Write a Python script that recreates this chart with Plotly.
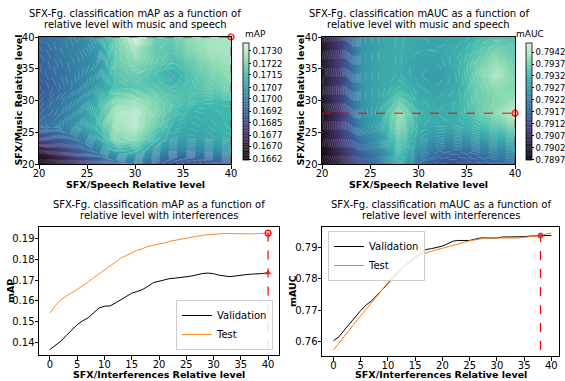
import plotly.graph_objects as go

W, H = 565, 381
FONT = "DejaVu Sans"

# ---------------- data ----------------
grid_levels = [20, 22, 24, 26, 28, 30, 32, 34, 36, 38, 40]  # SFX/Speech (x) and SFX/Music (y)

# rows: music level 20 -> 40 ; columns: speech level 20 -> 40
map_grid = [
    [0.1662, 0.1670, 0.1678, 0.1686, 0.1694, 0.1698, 0.1692, 0.1686, 0.1685, 0.1688, 0.1692],
    [0.1670, 0.1680, 0.1690, 0.1699, 0.1710, 0.1712, 0.1705, 0.1700, 0.1700, 0.1702, 0.1705],
    [0.1685, 0.1690, 0.1698, 0.1708, 0.1724, 0.1725, 0.1715, 0.1708, 0.1708, 0.1710, 0.1712],
    [0.1696, 0.1700, 0.1706, 0.1714, 0.1728, 0.1730, 0.1721, 0.1712, 0.1710, 0.1712, 0.1714],
    [0.1694, 0.1698, 0.1705, 0.1714, 0.1729, 0.1731, 0.1724, 0.1716, 0.1712, 0.1713, 0.1714],
    [0.1692, 0.1697, 0.1703, 0.1712, 0.1725, 0.1727, 0.1723, 0.1718, 0.1716, 0.1715, 0.1715],
    [0.1690, 0.1695, 0.1700, 0.1708, 0.1716, 0.1718, 0.1718, 0.1716, 0.1717, 0.1720, 0.1722],
    [0.1692, 0.1696, 0.1700, 0.1706, 0.1718, 0.1720, 0.1716, 0.1710, 0.1718, 0.1722, 0.1725],
    [0.1692, 0.1697, 0.1700, 0.1704, 0.1720, 0.1724, 0.1720, 0.1716, 0.1720, 0.1725, 0.1727],
    [0.1694, 0.1698, 0.1701, 0.1706, 0.1721, 0.1728, 0.1720, 0.1718, 0.1724, 0.1728, 0.1728],
    [0.1696, 0.1698, 0.1702, 0.1708, 0.1722, 0.1734, 0.1720, 0.1720, 0.1726, 0.1728, 0.1729],
]

mauc_grid = [
    [0.7897, 0.7905, 0.7915, 0.7920, 0.7930, 0.7920, 0.7915, 0.7914, 0.7916, 0.7918, 0.7920],
    [0.7899, 0.7908, 0.7918, 0.7924, 0.7934, 0.7924, 0.7920, 0.7919, 0.7921, 0.7923, 0.7925],
    [0.7900, 0.7910, 0.7921, 0.7927, 0.7936, 0.7928, 0.7925, 0.7925, 0.7927, 0.7929, 0.7932],
    [0.7901, 0.7911, 0.7924, 0.7929, 0.7939, 0.7930, 0.7929, 0.7930, 0.7932, 0.7935, 0.7938],
    [0.7900, 0.7910, 0.7925, 0.7930, 0.7940, 0.7931, 0.7930, 0.7931, 0.7935, 0.7939, 0.7944],
    [0.7902, 0.7912, 0.7926, 0.7929, 0.7936, 0.7930, 0.7929, 0.7931, 0.7936, 0.7938, 0.7940],
    [0.7903, 0.7912, 0.7926, 0.7929, 0.7932, 0.7929, 0.7928, 0.7930, 0.7936, 0.7939, 0.7938],
    [0.7902, 0.7911, 0.7926, 0.7929, 0.7930, 0.7928, 0.7927, 0.7930, 0.7937, 0.7942, 0.7937],
    [0.7903, 0.7912, 0.7926, 0.7929, 0.7930, 0.7928, 0.7928, 0.7931, 0.7936, 0.7940, 0.7936],
    [0.7902, 0.7911, 0.7926, 0.7929, 0.7930, 0.7929, 0.7929, 0.7930, 0.7934, 0.7937, 0.7935],
    [0.7903, 0.7912, 0.7926, 0.7929, 0.7930, 0.7929, 0.7928, 0.7929, 0.7932, 0.7934, 0.7934],
]

map_cbar_ticks = ["0.1662", "0.1670", "0.1677", "0.1685", "0.1692",
                  "0.1700", "0.1707", "0.1715", "0.1722", "0.1730"]
mauc_cbar_ticks = ["0.7897", "0.7902", "0.7907", "0.7912", "0.7917",
                   "0.7922", "0.7927", "0.7932", "0.7937", "0.7942"]

best_map_point = (40, 40)    # (speech, music)
best_mauc_point = (40, 28)

interf_levels = list(range(0, 41))
val_map = [0.1368, 0.1390, 0.1408, 0.1435, 0.1462, 0.1487, 0.1505, 0.1519, 0.1543, 0.1566,
           0.1575, 0.1576, 0.1590, 0.1606, 0.1622, 0.1637, 0.1645, 0.1655, 0.1670, 0.1688,
           0.1694, 0.1702, 0.1707, 0.1709, 0.1712, 0.1715, 0.1719, 0.1725, 0.1731, 0.1733,
           0.1730, 0.1723, 0.1718, 0.1716, 0.1719, 0.1724, 0.1726, 0.1728, 0.1729, 0.1731,
           0.1735]
test_map = [0.1543, 0.1578, 0.1606, 0.1624, 0.1640, 0.1655, 0.1671, 0.1690, 0.1710, 0.1728,
            0.1749, 0.1767, 0.1785, 0.1805, 0.1818, 0.1832, 0.1842, 0.1850, 0.1860, 0.1866,
            0.1871, 0.1877, 0.1885, 0.1890, 0.1894, 0.1900, 0.1906, 0.1910, 0.1914, 0.1916,
            0.1918, 0.1921, 0.1922, 0.1921, 0.1922, 0.1923, 0.1921, 0.1920, 0.1922, 0.1923,
            0.1924]
val_mauc = [0.7603, 0.7615, 0.7637, 0.7658, 0.7679, 0.7699, 0.7717, 0.7730, 0.7748, 0.7767,
            0.7785, 0.7804, 0.7823, 0.7841, 0.7857, 0.7870, 0.7883, 0.7894, 0.7897, 0.7900,
            0.7905, 0.7913, 0.7921, 0.7923, 0.7923, 0.7923, 0.7927, 0.7931, 0.7931, 0.7931,
            0.7931, 0.7934, 0.7934, 0.7934, 0.7935, 0.7935, 0.7937, 0.7938, 0.7939, 0.7939,
            0.7939]
test_mauc = [0.7573, 0.7595, 0.7619, 0.7642, 0.7661, 0.7682, 0.7703, 0.7725, 0.7746, 0.7767,
             0.7789, 0.7809, 0.7827, 0.7841, 0.7853, 0.7865, 0.7876, 0.7883, 0.7889, 0.7894,
             0.7898, 0.7903, 0.7909, 0.7914, 0.7918, 0.7922, 0.7925, 0.7929, 0.7931, 0.7931,
             0.7931, 0.7930, 0.7929, 0.7930, 0.7931, 0.7933, 0.7934, 0.7937, 0.7939, 0.7943,
             0.7947]
best_interf_map = 40
best_interf_mauc = 38

# ---------------- style ----------------
mako = [[0.0, "#0b0405"], [1/7, "#2e1e3b"], [2/7, "#413d7b"], [3/7, "#37659e"],
        [4/7, "#348fa7"], [5/7, "#40b7ad"], [6/7, "#8bdab2"], [1.0, "#def5e5"]]

def px_x(p):
    return p / W

def px_y(p):
    return 1 - p / H

dom = {
    "tl": ([px_x(39), px_x(231)], [px_y(164), px_y(37)]),
    "tr": ([px_x(322), px_x(515)], [px_y(164), px_y(37)]),
    "bl": ([px_x(39), px_x(279)], [px_y(355), px_y(227)]),
    "br": ([px_x(322), px_x(559)], [px_y(356), px_y(227)]),
}

fig = go.Figure()

def add_contour(z, xa, ya, zmin, zmax, ticks, cb_left_px):
    fig.add_trace(go.Contour(
        x=grid_levels, y=grid_levels, z=z, xaxis=xa, yaxis=ya,
        colorscale=mako, zmin=zmin, zmax=zmax, zauto=False,
        autocontour=False,
        contours=dict(start=zmin, end=zmax, size=0.0001, coloring="heatmap"),
        line=dict(color="rgba(255,255,255,0.3)", width=0.6, dash="dash"),
        colorbar=dict(
            x=px_x(cb_left_px), xanchor="left", xpad=0, ypad=0,
            y=px_y(101.5), yanchor="middle", len=117 / H, lenmode="fraction",
            thickness=6, thicknessmode="pixels",
            outlinewidth=0.8, outlinecolor="black",
            tickvals=[float(t) for t in ticks], ticktext=ticks,
            ticks="outside", ticklen=2, tickwidth=0.8, tickcolor="black",
            tickfont=dict(family=FONT, size=8.5, color="black"),
        ),
        showscale=True, hoverinfo="skip",
    ))

add_contour(map_grid, "x", "y", 0.16615, 0.1735, map_cbar_ticks, 243)
add_contour(mauc_grid, "x2", "y2", 0.78968, 0.79458, mauc_cbar_ticks, 526)

red = "#ff0000"
# best markers on heatmaps
for xa, ya, (bx, by) in [("x", "y", best_map_point), ("x2", "y2", best_mauc_point)]:
    fig.add_trace(go.Scatter(x=[grid_levels[0], bx], y=[by, by], xaxis=xa, yaxis=ya,
                             mode="lines", line=dict(color=red, width=1, dash="dash"),
                             showlegend=False, cliponaxis=False, hoverinfo="skip"))
    fig.add_trace(go.Scatter(x=[bx, bx], y=[grid_levels[0], by], xaxis=xa, yaxis=ya,
                             mode="lines", line=dict(color="rgba(160,0,0,0.6)", width=1, dash="dash"),
                             showlegend=False, cliponaxis=False, hoverinfo="skip"))
    fig.add_trace(go.Scatter(x=[bx], y=[by], xaxis=xa, yaxis=ya, mode="markers",
                             marker=dict(symbol="circle", size=6, color="rgba(255,0,0,0.25)",
                                         line=dict(color=red, width=1.2)),
                             showlegend=False, cliponaxis=False, hoverinfo="skip"))

# bottom-left lines
fig.add_trace(go.Scatter(x=interf_levels, y=val_map, xaxis="x3", yaxis="y3", mode="lines",
                         line=dict(color="black", width=1), name="Validation", legend="legend"))
fig.add_trace(go.Scatter(x=interf_levels, y=test_map, xaxis="x3", yaxis="y3", mode="lines",
                         line=dict(color="#ff8c2a", width=1), name="Test", legend="legend"))
ymin_l = min(min(val_map), min(test_map))
fig.add_trace(go.Scatter(x=[best_interf_map, best_interf_map],
                         y=[ymin_l, test_map[interf_levels.index(best_interf_map)]],
                         xaxis="x3", yaxis="y3", mode="lines",
                         line=dict(color=red, width=1.2, dash="dash"), showlegend=False, hoverinfo="skip"))
fig.add_trace(go.Scatter(x=[best_interf_map], y=[test_map[interf_levels.index(best_interf_map)]],
                         xaxis="x3", yaxis="y3", mode="markers",
                         marker=dict(symbol="circle", size=6, color="rgba(255,0,0,0.25)",
                                     line=dict(color=red, width=1.2)),
                         showlegend=False, cliponaxis=False, hoverinfo="skip"))
fig.add_trace(go.Scatter(x=[best_interf_map], y=[val_map[interf_levels.index(best_interf_map)]],
                         xaxis="x3", yaxis="y3", mode="markers",
                         marker=dict(symbol="triangle-up", size=6, color="rgba(230,30,30,0.85)"),
                         showlegend=False, cliponaxis=False, hoverinfo="skip"))

# bottom-right lines
fig.add_trace(go.Scatter(x=interf_levels, y=val_mauc, xaxis="x4", yaxis="y4", mode="lines",
                         line=dict(color="black", width=1), name="Validation", legend="legend2"))
fig.add_trace(go.Scatter(x=interf_levels, y=test_mauc, xaxis="x4", yaxis="y4", mode="lines",
                         line=dict(color="#ff7f0e", width=1), name="Test", legend="legend2"))
ymin_r = min(min(val_mauc), min(test_mauc))
bi = interf_levels.index(best_interf_mauc)
fig.add_trace(go.Scatter(x=[best_interf_mauc, best_interf_mauc], y=[ymin_r, val_mauc[bi]],
                         xaxis="x4", yaxis="y4", mode="lines",
                         line=dict(color=red, width=1.2, dash="dash"), showlegend=False, hoverinfo="skip"))
fig.add_trace(go.Scatter(x=[best_interf_mauc], y=[val_mauc[bi]], xaxis="x4", yaxis="y4",
                         mode="markers", marker=dict(symbol="circle", size=6, color="rgba(220,30,30,0.8)"),
                         showlegend=False, cliponaxis=False, hoverinfo="skip"))

tickfont = dict(family=FONT, size=10, color="black")
axis_common = dict(showline=True, linecolor="black", linewidth=1, mirror=True,
                   ticks="outside", ticklen=3.5, tickwidth=0.8, tickcolor="black",
                   showgrid=False, zeroline=False, tickfont=tickfont, automargin=False)
xax = dict(ticklabelstandoff=-4, **axis_common)
yax = dict(ticklabelstandoff=-2, **axis_common)

fig.update_layout(
    width=W, height=H, margin=dict(l=0, r=0, t=0, b=0, autoexpand=False),
    paper_bgcolor="white", plot_bgcolor="white",
    font=dict(family=FONT, color="black"),
    xaxis=dict(domain=dom["tl"][0], range=[20, 40], tickvals=[20, 25, 30, 35, 40], anchor="y", **xax),
    yaxis=dict(domain=dom["tl"][1], range=[20, 40], tickvals=[20, 25, 30, 35, 40], anchor="x", **yax),
    xaxis2=dict(domain=dom["tr"][0], range=[20, 40], tickvals=[20, 25, 30, 35, 40], anchor="y2", **xax),
    yaxis2=dict(domain=dom["tr"][1], range=[20, 40], tickvals=[20, 25, 30, 35, 40], anchor="x2", **yax),
    xaxis3=dict(domain=dom["bl"][0], range=[-2, 42], tickvals=list(range(0, 41, 5)), anchor="y3", **xax),
    yaxis3=dict(domain=dom["bl"][1], range=[0.1342, 0.1953], tickvals=[0.14, 0.15, 0.16, 0.17, 0.18, 0.19],
                tickformat=".2f", anchor="x3", **yax),
    xaxis4=dict(domain=dom["br"][0], range=[-2.1, 41.4], tickvals=list(range(0, 41, 5)), anchor="y4", **xax),
    yaxis4=dict(domain=dom["br"][1], range=[0.7554, 0.7966], tickvals=[0.76, 0.77, 0.78, 0.79],
                tickformat=".2f", anchor="x4", **yax),
    legend=dict(x=px_x(273), xanchor="right", y=px_y(350), yanchor="bottom",
                bgcolor="rgba(255,255,255,0.85)", bordercolor="#cccccc", borderwidth=1,
                font=dict(family=FONT, size=10, color="black"), tracegroupgap=0,
                itemwidth=30),
    legend2=dict(x=px_x(328), xanchor="left", y=px_y(231), yanchor="top",
                 bgcolor="rgba(255,255,255,0.85)", bordercolor="#cccccc", borderwidth=1,
                 font=dict(family=FONT, size=10, color="black"), tracegroupgap=0,
                 itemwidth=30),
)

ann = []
def text(x, y, s, size=10, bold=False, angle=0, xanchor="center"):
    ann.append(dict(x=px_x(x), y=px_y(y), xref="paper", yref="paper", text=(f"<b>{s}</b>" if bold else s),
                    showarrow=False, xanchor=xanchor, yanchor="middle", textangle=angle,
                    font=dict(family=FONT, size=size, color="black")))

# titles
text(135, 14, "SFX-Fg. classification mAP as a function of")
text(135, 25, "relative level with music and speech")
text(418.5, 14, "SFX-Fg. classification mAUC as a function of")
text(418.5, 25, "relative level with music and speech")
text(159, 204, "SFX-Fg. classification mAP as a function of")
text(159, 215, "relative level with interferences")
text(440.5, 204, "SFX-Fg. classification mAUC as a function of")
text(440.5, 215, "relative level with interferences")
# axis labels
text(135, 184, "SFX/Speech Relative level", size=9.5, bold=True)
text(418.5, 184, "SFX/Speech Relative level", size=9.5, bold=True)
text(18, 100.5, "SFX/Music Relative level", size=9.5, bold=True, angle=-90)
text(300, 100.5, "SFX/Music Relative level", size=9.5, bold=True, angle=-90)
text(159, 374, "SFX/Interferences Relative level", size=9.5, bold=True)
text(440.5, 374, "SFX/Interferences Relative level", size=9.5, bold=True)
text(10, 291, "mAP", size=9.5, bold=True, angle=-90)
text(292, 291, "mAUC", size=9.5, bold=True, angle=-90)
# colorbar titles
text(243, 34, "mAP", size=9, xanchor="left")
text(514, 34, "mAUC", size=9, xanchor="left")

fig.update_layout(annotations=ann)
fig.write_html("out.html", config={"displayModeBar": False},
               post_script="document.body.style.margin='0px';document.body.style.overflow='hidden';")
